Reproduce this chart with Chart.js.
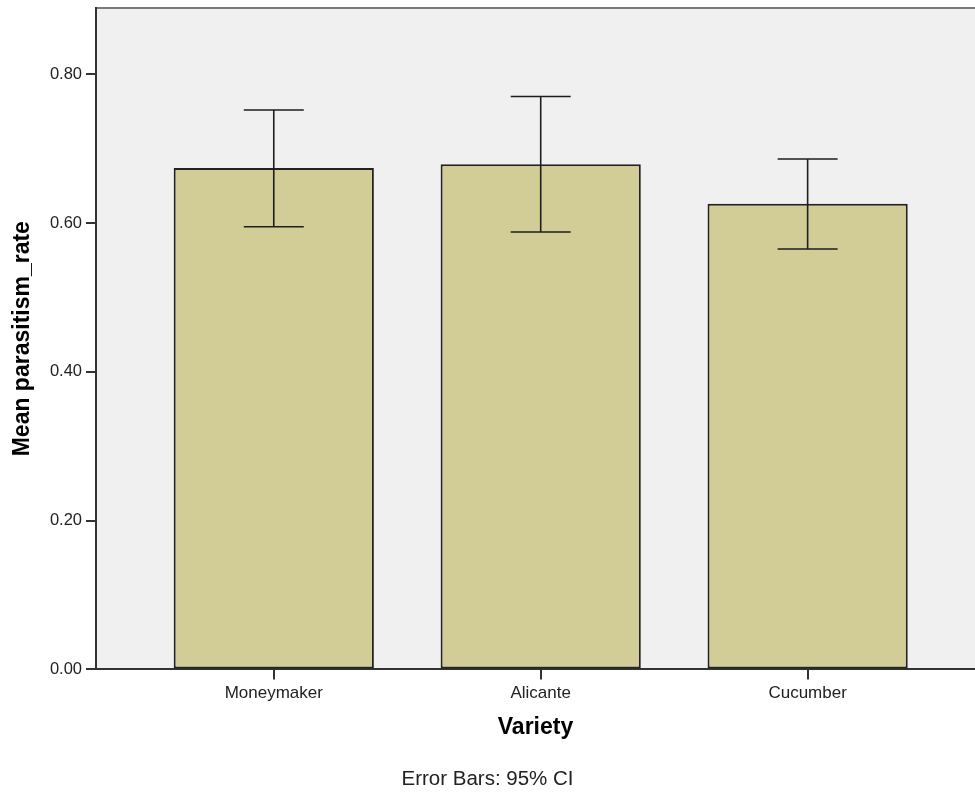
<!DOCTYPE html>
<html>
<head>
<meta charset="utf-8">
<script src="https://cdn.jsdelivr.net/npm/chart.js@4"></script>
<style>
  body { margin: 0; background: #fff; }
</style>
</head>
<body>
<canvas id="myChart" width="975" height="796"></canvas>
<script>
const categories = ["Moneymaker", "Alicante", "Cucumber"]
const meanRate = [0.674, 0.679, 0.626]
const ciLower = [0.595, 0.588, 0.565]
const ciUpper = [0.752, 0.770, 0.686]
const yTicks = [0, 0.2, 0.4, 0.6, 0.8]

const font = "'Liberation Sans', Arial, sans-serif"

// plot panel fill + the thin grey frame line along the top
const panel = {
  id: "panel",
  beforeDraw(chart) {
    const { ctx, chartArea: a } = chart
    ctx.save()
    ctx.fillStyle = "#fff"
    ctx.fillRect(0, 0, chart.width, chart.height)
    ctx.fillStyle = "#f0f0f0"
    ctx.fillRect(a.left, a.top, a.right - a.left, a.bottom - a.top)
    ctx.strokeStyle = "#7a7a7a"
    ctx.lineWidth = 2
    ctx.beginPath()
    ctx.moveTo(a.left, a.top)
    ctx.lineTo(a.right, a.top)
    ctx.stroke()
    ctx.restore()
  },
}

// 95% CI whiskers with caps
const errorBars = {
  id: "errorBars",
  afterDatasetsDraw(chart) {
    const { ctx, scales: { x, y } } = chart
    const cap = 30
    ctx.save()
    ctx.strokeStyle = "#1e1e1e"
    ctx.lineWidth = 1.6
    categories.forEach((c, i) => {
      const px = x.getPixelForValue(i)
      const top = y.getPixelForValue(ciUpper[i])
      const bot = y.getPixelForValue(ciLower[i])
      ctx.beginPath()
      ctx.moveTo(px, top)
      ctx.lineTo(px, bot)
      ctx.moveTo(px - cap, top)
      ctx.lineTo(px + cap, top)
      ctx.moveTo(px - cap, bot)
      ctx.lineTo(px + cap, bot)
      ctx.stroke()
    })
    ctx.restore()
  },
}

const ctx = document.getElementById("myChart")
const myChart = new Chart(ctx, {
  type: "bar",
  data: {
    datasets: [
      {
        data: categories.map((c, i) => ({ x: i, y: meanRate[i] })),
        backgroundColor: "#d2cd96",
        borderColor: "#222",
        borderWidth: 2,
        borderSkipped: false,
        barPercentage: 0.75,
        categoryPercentage: 1,
      },
    ],
  },
  options: {
    responsive: false,
    animation: false,
    events: [],
    layout: { padding: { top: 8, right: 0, left: 0, bottom: 0 } },
    scales: {
      x: {
        type: "linear",
        offset: false,
        min: -0.666,
        max: 2.627,
        afterBuildTicks: (s) => {
          s.ticks = categories.map((c, i) => ({ value: i }))
        },
        afterFit: (s) => {
          s.height = 98
          s.paddingLeft = 0
          s.paddingRight = 0
        },
        ticks: {
          callback: (v) => categories[v],
          font: { family: font, size: 17 },
          color: "#222",
          padding: 4,
          maxRotation: 0,
          autoSkip: false,
        },
        grid: {
          offset: false,
          drawOnChartArea: false,
          tickLength: 10,
          color: "#333",
          lineWidth: 2,
        },
        border: { color: "#333", width: 2 },
        title: {
          display: true,
          text: "Variety",
          font: { family: font, size: 23, weight: "bold" },
          color: "#000",
          padding: { top: 0, bottom: 26 },
        },
      },
      y: {
        min: 0,
        max: 0.889,
        afterBuildTicks: (s) => {
          s.ticks = yTicks.map((v) => ({ value: v }))
        },
        afterFit: (s) => {
          s.width = 96
          s.paddingTop = 0
          s.paddingBottom = 0
        },
        ticks: {
          callback: (v) => v.toFixed(2),
          font: { family: font, size: 16.5 },
          color: "#222",
          padding: 4,
        },
        grid: {
          drawOnChartArea: false,
          tickLength: 10,
          color: "#333",
          lineWidth: 2,
        },
        border: { color: "#333", width: 2 },
        title: {
          display: true,
          text: "Mean parasitism_rate",
          font: { family: font, size: 23, weight: "bold" },
          color: "#000",
          padding: { top: 9, bottom: 0 },
        },
      },
    },
    plugins: {
      legend: { display: false },
      tooltip: { enabled: false },
      subtitle: {
        display: true,
        position: "bottom",
        text: "Error Bars: 95% CI",
        font: { family: font, size: 20.5, weight: "normal" },
        color: "#222",
        padding: { top: 0, bottom: 4 },
      },
    },
  },
  plugins: [panel, errorBars],
})
</script>
</body>
</html>
